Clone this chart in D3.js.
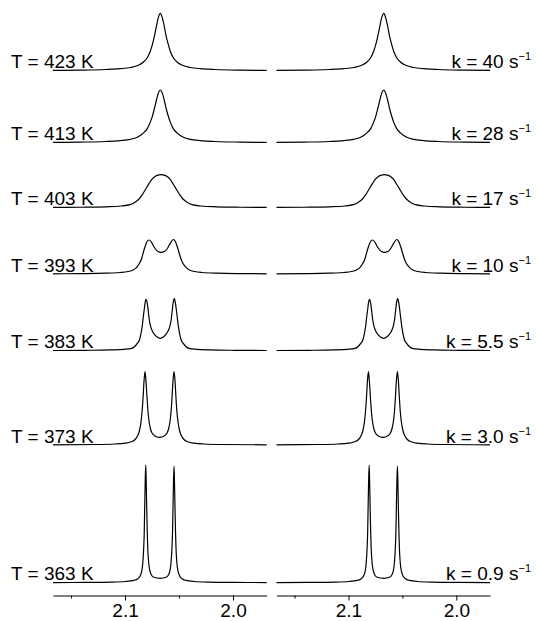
<!DOCTYPE html>
<html><head><meta charset="utf-8">
<script src="https://cdn.jsdelivr.net/npm/d3@7"></script>
<style>
body{margin:0;background:#fff}
text{font-family:"Liberation Sans",Arial,sans-serif}
</style>
</head><body>
<svg id="c" width="537" height="621"></svg>
<script>
// ---- data ----
const temps = [423, 413, 403, 393, 383, 373, 363];
const rates = ["40", "28", "17", "10", "5.5", "3.0", "0.9"];
// vertical stacking offsets (intensity units)
const offsets = [512, 440, 375, 308.7, 232, 137.7, 0];

const s423 = [[2.1667,0.3],[2.1414,0.6],[2.1182,1.2],[2.1044,2.0],[2.0951,3.2],[2.0877,5.5],[2.0831,8.5],[2.0794,13],[2.0766,19.5],[2.0747,26],[2.0729,34],[2.0710,44],[2.0692,53],[2.0673,57.4],[2.0655,53],[2.0636,44],[2.0618,34],[2.0599,26],[2.0581,19.5],[2.0553,13],[2.0516,8.5],[2.0469,5.5],[2.0395,3.2],[2.0303,2.0],[2.0164,1.2],[1.9932,0.6],[1.9688,0.3]];
const s413 = [[2.1667,0.3],[2.1414,0.6],[2.1182,1.2],[2.1044,2.1],[2.0951,3.4],[2.0877,6.0],[2.0831,9.6],[2.0794,14.1],[2.0766,20.6],[2.0747,26.4],[2.0729,33.7],[2.0710,42.2],[2.0692,49.6],[2.0673,52.7],[2.0655,49.6],[2.0636,42.2],[2.0618,33.7],[2.0599,26.4],[2.0581,20.6],[2.0553,14.1],[2.0516,9.6],[2.0469,6.0],[2.0395,3.4],[2.0303,2.1],[2.0164,1.2],[1.9932,0.6],[1.9688,0.3]];
const s403 = [[2.1667,0.25],[2.1407,0.45],[2.1176,0.9],[2.1037,1.7],[2.0954,3.0],[2.0907,5.5],[2.0870,8.7],[2.0843,12.5],[2.0815,17.5],[2.0778,24],[2.0750,28.5],[2.0722,31.3],[2.0694,32.6],[2.0667,33],[2.0639,32.6],[2.0611,31.3],[2.0583,28.5],[2.0556,24],[2.0519,17.5],[2.0491,12.5],[2.0463,8.7],[2.0426,5.5],[2.0380,3.0],[2.0296,1.7],[2.0157,0.9],[1.9926,0.45],[1.9688,0.25]];
const s393 = [[2.1667,0.2],[2.1417,0.4],[2.1185,0.8],[2.1046,1.5],[2.0972,2.5],[2.0926,4.0],[2.0892,6.7],[2.0868,10.5],[2.0845,15.7],[2.0831,21.5],[2.0815,27.3],[2.0796,32.5],[2.0778,34],[2.0759,32.5],[2.0741,29],[2.0718,25],[2.0694,22.5],[2.0667,21.7],[2.0636,22.5],[2.0611,25],[2.0590,29],[2.0571,32.5],[2.0553,34.5],[2.0534,32.5],[2.0516,27.3],[2.0500,21.5],[2.0484,15.7],[2.0463,10.5],[2.0435,6.7],[2.0403,4.0],[2.0356,2.5],[2.0287,1.5],[2.0148,0.8],[1.9917,0.4],[1.9688,0.2]];
const s383 = [[2.1667,0.2],[2.1370,0.4],[2.1139,0.8],[2.1009,1.4],[2.0938,2.4],[2.0886,7.4],[2.0866,11],[2.0852,17.4],[2.0840,25],[2.0831,34],[2.0821,42],[2.0815,47.4],[2.0806,51.4],[2.0794,47.4],[2.0784,39],[2.0775,30.7],[2.0761,23.5],[2.0744,19],[2.0706,14],[2.0674,12.4],[2.0642,14],[2.0605,19],[2.0587,23.5],[2.0573,30.7],[2.0564,39],[2.0555,47.5],[2.0544,52],[2.0533,47.5],[2.0526,42],[2.0517,34],[2.0507,25],[2.0495,17.4],[2.0481,11],[2.0461,7.4],[2.0409,2.4],[2.0338,1.4],[2.0208,0.8],[1.9977,0.4],[1.9688,0.2]];
const s373 = [[2.1667,0.2],[2.1278,0.5],[2.1093,1.0],[2.1000,1.8],[2.0944,3.2],[2.0907,5.5],[2.0880,10],[2.0866,14.5],[2.0852,23],[2.0843,32.5],[2.0833,47],[2.0824,64],[2.0815,73.3],[2.0806,64],[2.0796,47],[2.0787,33],[2.0778,24],[2.0764,16],[2.0750,12],[2.0727,9.3],[2.0681,7.7],[2.0634,9.3],[2.0611,12],[2.0597,16],[2.0583,24],[2.0574,33],[2.0565,47],[2.0556,64],[2.0546,73.3],[2.0537,64],[2.0528,47],[2.0519,32.5],[2.0509,23],[2.0495,14.5],[2.0481,10],[2.0454,5.5],[2.0417,3.2],[2.0361,1.8],[2.0269,1.0],[2.0083,0.5],[1.9688,0.2]];
const s363 = [[2.1667,0.15],[2.1364,0.3],[2.1132,0.6],[2.0994,1.2],[2.0919,2.3],[2.0882,4.0],[2.0859,7],[2.0845,11.5],[2.0836,19],[2.0827,35],[2.0822,50],[2.0818,74],[2.0813,102],[2.0808,117.7],[2.0804,102],[2.0799,74],[2.0794,51],[2.0790,36],[2.0781,20],[2.0771,12.5],[2.0757,8],[2.0734,5.5],[2.0673,4.4],[2.0620,5.5],[2.0597,8],[2.0583,12.5],[2.0574,20],[2.0565,36],[2.0560,51],[2.0556,74],[2.0551,102],[2.0546,116.7],[2.0542,101],[2.0537,73],[2.0532,50],[2.0528,35],[2.0519,19],[2.0509,11.5],[2.0495,7],[2.0472,4],[2.0435,2.3],[2.0361,1.2],[2.0222,0.6],[1.9991,0.3],[1.9688,0.15]];
const spectra = [s423, s413, s403, s393, s383, s373, s363];

const ppmDomain = [2.1667, 1.9688];
const majorTicks = [2.1, 2.0];
const minorTicks = [2.15, 2.05];

// ---- drawing ----
const svg = d3.select("#c");
const y = d3.scaleLinear().domain([0, 520]).range([582.7, 62.7]);
const axisY = 595.5;
const panels = [{x0: 53, x1: 266.7}, {x0: 276.5, x1: 490}];

panels.forEach(p => {
  const x = d3.scaleLinear().domain(ppmDomain).range([p.x0, p.x1]);
  spectra.forEach((s, i) => {
    const line = d3.line()
      .x(d => x(d[0]))
      .y(d => y(d[1] + offsets[i]))
      .curve(d3.curveMonotoneX);
    svg.append("path").datum(s)
      .attr("d", line)
      .attr("fill", "none")
      .attr("stroke", "#000")
      .attr("stroke-width", 1.2)
      .attr("stroke-linejoin", "round");
  });
  const gMinor = svg.append("g").attr("transform", `translate(0,${axisY})`)
    .call(d3.axisBottom(x).tickValues(minorTicks).tickSize(3).tickSizeOuter(0).tickFormat(""));
  gMinor.select(".domain").remove();
  const gMajor = svg.append("g").attr("transform", `translate(0,${axisY})`)
    .call(d3.axisBottom(x).tickValues(majorTicks).tickSize(5).tickSizeOuter(0).tickFormat(d3.format(".1f")));
  [gMinor, gMajor].forEach(g => {
    g.selectAll("line").attr("stroke", "#000").attr("stroke-width", 1);
    g.selectAll("path").attr("stroke", "#000").attr("stroke-width", 1.1);
    g.selectAll("text").attr("fill", "#000").style("font-size", "19px")
      .style("font-family", '"Liberation Sans", Arial, sans-serif');
  });
});

// labels
temps.forEach((t, i) => {
  svg.append("text")
    .attr("x", 11).attr("y", y(offsets[i]) - 2.5)
    .style("font-size", "19px").attr("fill", "#000")
    .text(`T = ${t} K`);
});
rates.forEach((r, i) => {
  const tx = svg.append("text")
    .attr("x", 531).attr("y", y(offsets[i]) - 2.5)
    .attr("text-anchor", "end")
    .style("font-size", "19px").attr("fill", "#000");
  tx.append("tspan").text(`k = ${r} s`);
  tx.append("tspan").attr("dy", -8).style("font-size", "11px").text("\u22121");
});
</script>
</body></html>
